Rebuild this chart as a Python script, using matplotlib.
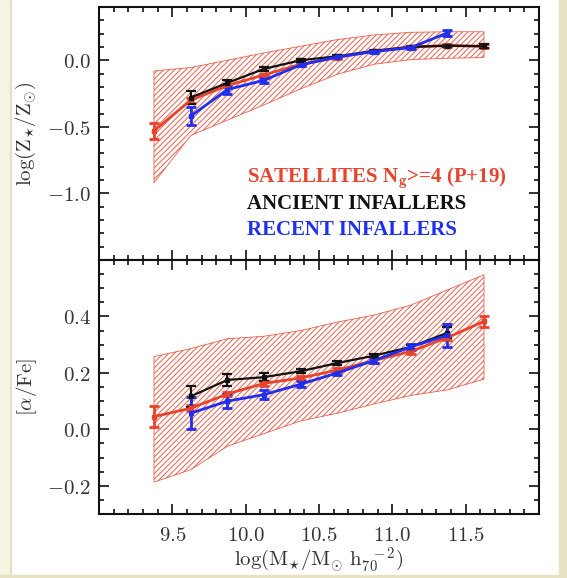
import matplotlib
matplotlib.use('Agg')
import matplotlib.pyplot as plt
from matplotlib.patches import Rectangle
from matplotlib.ticker import MultipleLocator, FuncFormatter

plt.rcParams['mathtext.fontset'] = 'cm'
plt.rcParams['hatch.linewidth'] = 0.7

RED = '#e8432d'
BLUE = '#1f2ff0'
BLACK = '#111111'
GREY = '#333333'

# stellar mass bins
mass_sat = [9.375, 9.625, 9.875, 10.125, 10.375, 10.625, 10.875, 11.125, 11.375, 11.625]
mass_anc = [9.625, 9.875, 10.125, 10.375, 10.625, 10.875, 11.125, 11.375, 11.625]
mass_rec = [9.625, 9.875, 10.125, 10.375, 10.625, 10.875, 11.125, 11.375]
mass_anc_a = [9.625, 9.875, 10.125, 10.375, 10.625, 10.875, 11.125, 11.375]

# top panel: log(Z*/Zsun)
sat_z = [-0.53, -0.30, -0.19, -0.11, -0.03, 0.02, 0.07, 0.10, 0.11, 0.105]
sat_z_err = [0.06, 0.02, 0.01, 0.01, 0.01, 0.01, 0.01, 0.01, 0.01, 0.015]
sat_z_lo = [-0.92, -0.565, -0.45, -0.335, -0.215, -0.105, -0.03, 0.005, 0.015, 0.02]
sat_z_hi = [-0.08, -0.055, 0.0, 0.055, 0.105, 0.155, 0.19, 0.21, 0.214, 0.214]
anc_z = [-0.28, -0.17, -0.065, 0.0, 0.03, 0.07, 0.10, 0.11, 0.105]
anc_z_err = [0.05, 0.02, 0.012, 0.01, 0.008, 0.008, 0.008, 0.008, 0.015]
rec_z = [-0.42, -0.22, -0.15, -0.035, 0.025, 0.065, 0.095, 0.205]
rec_z_err = [0.07, 0.03, 0.02, 0.01, 0.01, 0.01, 0.012, 0.02]

# bottom panel: [alpha/Fe]
sat_a = [0.045, 0.075, 0.125, 0.163, 0.182, 0.21, 0.244, 0.276, 0.325, 0.383]
sat_a_err = [0.038, 0.01, 0.008, 0.008, 0.008, 0.008, 0.008, 0.008, 0.01, 0.02]
sat_a_lo = [-0.187, -0.143, -0.06, -0.015, 0.03, 0.057, 0.09, 0.12, 0.14, 0.178]
sat_a_hi = [0.258, 0.286, 0.321, 0.33, 0.35, 0.38, 0.405, 0.44, 0.494, 0.548]
anc_a = [0.117, 0.175, 0.185, 0.206, 0.235, 0.261, 0.292, 0.342]
anc_a_err = [0.038, 0.02, 0.015, 0.008, 0.006, 0.006, 0.008, 0.02]
rec_a = [0.057, 0.10, 0.123, 0.16, 0.20, 0.244, 0.292, 0.333]
rec_a_err = [0.057, 0.025, 0.015, 0.01, 0.008, 0.01, 0.012, 0.04]

legend_lines = [('SATELLITES N$_{\\mathbf{g}}$>=4 (P+19)', RED),
                ('ANCIENT INFALLERS', BLACK),
                ('RECENT INFALLERS', BLUE)]


def labeller(lo, hi):
    # only label ticks inside [lo, hi], like the original
    def f(v, p):
        if v < lo - 1e-6 or v > hi + 1e-6:
            return ''
        return f'${v:.1f}$'
    return FuncFormatter(f)


def style_axis(ax, ymin, ymax, ymajor, yminor, ylab):
    ax.set_xlim(9.0, 12.0)
    ax.set_ylim(ymin, ymax)
    ax.xaxis.set_major_locator(MultipleLocator(0.5))
    ax.xaxis.set_minor_locator(MultipleLocator(0.1))
    ax.yaxis.set_major_locator(MultipleLocator(ymajor))
    ax.yaxis.set_minor_locator(MultipleLocator(yminor))
    ax.tick_params(which='both', direction='in', top=True, right=True, width=1.2, colors=BLACK)
    ax.tick_params(which='major', length=7)
    ax.tick_params(which='minor', length=3.5)
    ax.tick_params(axis='y', pad=6, labelsize=15, labelcolor=GREY)
    ax.tick_params(axis='x', pad=8, labelsize=15, labelcolor=GREY)
    ax.yaxis.set_major_formatter(labeller(*ylab))
    ax.xaxis.set_major_formatter(labeller(9.5, 11.5))
    for s in ax.spines.values():
        s.set_linewidth(1.5)
        s.set_color(BLACK)


def draw_series(ax, x, y, err, color, lw, ms):
    ax.errorbar(x, y, yerr=err, color=color, lw=lw, elinewidth=lw, capsize=3.5,
                capthick=lw, marker='s', ms=ms, mec=color, mfc=color)


fig = plt.figure(figsize=(5.67, 5.78), dpi=100)
fig.patch.set_facecolor('white')

# slide background strips
fig.add_artist(Rectangle((0, 0), 10 / 567, 1, transform=fig.transFigure, color='#f7f4e4', zorder=0))
fig.add_artist(Rectangle((10 / 567, 0), 1.2 / 567, 1, transform=fig.transFigure, color='#e6e0c2', zorder=0))
fig.add_artist(Rectangle((559 / 567, 0), 8 / 567, 1, transform=fig.transFigure, color='#e7e1c5', zorder=0))
fig.add_artist(Rectangle((0, 0), 1, 3 / 578, transform=fig.transFigure, color='#e7e1c5', zorder=0))

ax1 = fig.add_axes([0.1746, 0.5502, 0.776, 0.4377])
ax2 = fig.add_axes([0.1746, 0.1107, 0.776, 0.4394])

# top panel
ax1.fill_between(mass_sat, sat_z_lo, sat_z_hi, facecolor='none', edgecolor=RED,
                 hatch='//////', lw=0.6, alpha=0.85)
draw_series(ax1, mass_sat, sat_z, sat_z_err, RED, 2.0, 3)
draw_series(ax1, mass_anc, anc_z, anc_z_err, BLACK, 1.6, 3.5)
draw_series(ax1, mass_rec, rec_z, rec_z_err, BLUE, 2.0, 3.5)
style_axis(ax1, -1.5, 0.4, 0.5, 0.1, (-1.0, 0.0))
ax1.tick_params(labelbottom=False)
ax1.set_ylabel(r'$\log(\mathrm{Z}_{\star}/\mathrm{Z}_{\odot})$', fontsize=15, color=GREY, labelpad=6)

for i, (txt, col) in enumerate(legend_lines):
    ax1.text(0.336, 0.3055 - i * 0.1025, txt, color=col, transform=ax1.transAxes,
             fontsize=15, family='Liberation Serif', fontweight='bold', va='baseline')

# bottom panel
ax2.fill_between(mass_sat, sat_a_lo, sat_a_hi, facecolor='none', edgecolor=RED,
                 hatch='//////', lw=0.6, alpha=0.85)
draw_series(ax2, mass_sat, sat_a, sat_a_err, RED, 2.0, 3)
draw_series(ax2, mass_anc_a, anc_a, anc_a_err, BLACK, 1.6, 3.5)
draw_series(ax2, mass_rec, rec_a, rec_a_err, BLUE, 2.0, 3.5)
style_axis(ax2, -0.3, 0.6, 0.2, 0.05, (-0.2, 0.4))
ax2.set_ylabel(r'$[\alpha/\mathrm{Fe}]$', fontsize=15, color=GREY, labelpad=6)
ax2.set_xlabel(r'$\log(\mathrm{M}_{\star}/\mathrm{M}_{\odot}\ \mathrm{h}_{70}^{\ \ -2})$',
               fontsize=15, color=GREY, labelpad=0)

fig.savefig('out.png', dpi=100)
